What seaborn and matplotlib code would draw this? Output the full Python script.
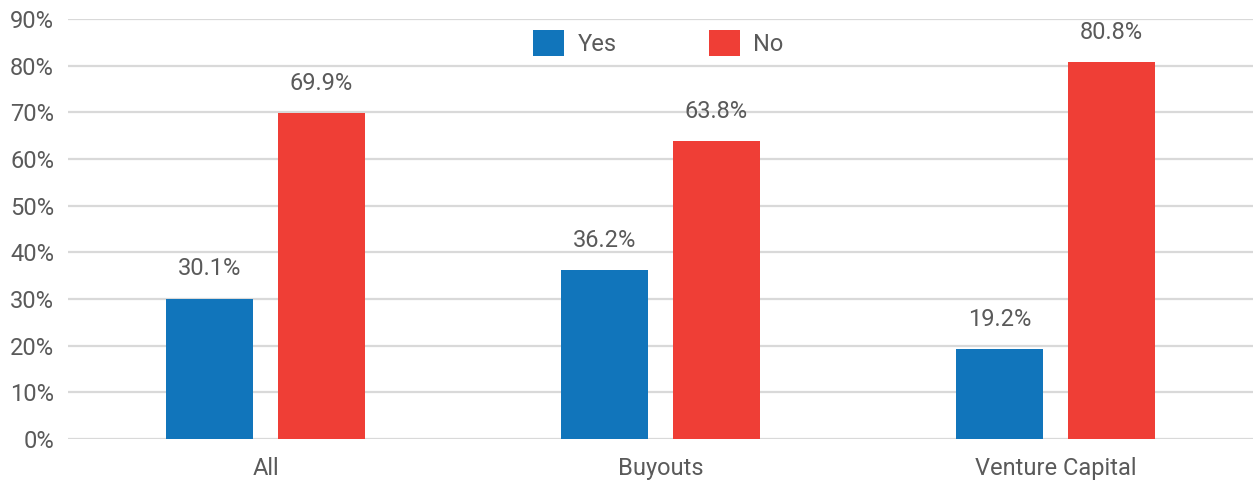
import matplotlib
matplotlib.use("Agg")
import matplotlib.pyplot as plt
from matplotlib.ticker import FuncFormatter
import seaborn as sns
import pandas as pd

categories = ["All", "Buyouts", "Venture Capital"]
yes_values = [30.1, 36.2, 19.2]
no_values = [69.9, 63.8, 80.8]
series_names = ["Yes", "No"]
y_ticks = list(range(0, 100, 10))

df = pd.DataFrame({
    "category": categories * 2,
    "answer": [series_names[0]] * 3 + [series_names[1]] * 3,
    "value": yes_values + no_values,
})

sns.set_theme(style="white")
plt.rcParams["font.family"] = ["Roboto", "DejaVu Sans"]

text_color = "#5A5A5A"
palette = {"Yes": "#1175BB", "No": "#EF3E36"}
fs = 17

fig = plt.figure(figsize=(12.56, 4.82), dpi=100)
ax = fig.add_axes([68 / 1256, 43 / 482, (1253 - 68) / 1256, (439 - 19) / 482])

sns.barplot(data=df, x="category", y="value", hue="answer", order=categories,
            hue_order=series_names, palette=palette, width=0.567, gap=0.22,
            saturation=1, edgecolor="none", ax=ax, zorder=3)

ax.set_ylim(0, 90)
ax.set_xlim(-0.5, 2.5)
ax.set_yticks(y_ticks)
ax.yaxis.set_major_formatter(FuncFormatter(lambda v, _: f"{v:.0f}%"))
ax.grid(axis="y", color="#D9D9D9", linewidth=1.6, zorder=0)
ax.set_axisbelow(True)
for s in ax.spines.values():
    s.set_visible(False)
ax.tick_params(axis="both", length=0, labelsize=fs, colors=text_color)
ax.tick_params(axis="x", pad=13)
ax.tick_params(axis="y", pad=10)
ax.set_xlabel("")
ax.set_ylabel("")

for container in ax.containers:
    ax.bar_label(container, labels=[f"{v:.1f}%" for v in container.datavalues],
                 padding=13, fontsize=fs, color=text_color)

handles, labels = ax.get_legend_handles_labels()
ax.legend(handles, labels, loc="center", bbox_to_anchor=(0.498, 0.943), ncol=2,
          frameon=False, fontsize=fs, labelcolor=text_color,
          handlelength=1.35, handleheight=1.35, handletextpad=0.55,
          columnspacing=3.9)

fig.savefig("out.png", dpi=100)
